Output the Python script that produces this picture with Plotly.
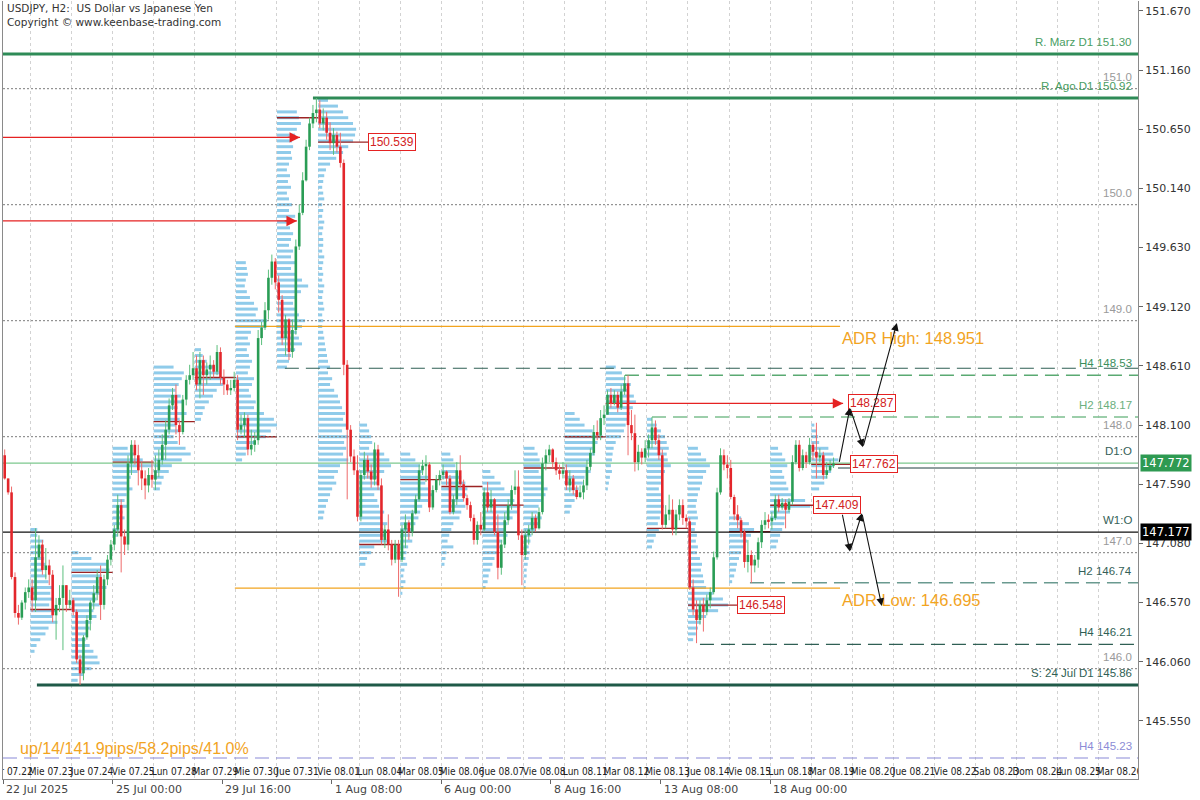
import plotly.graph_objects as go

# ---------------- data ----------------
FIRST_BAR = 4            # H2 bar index (0 = 22 Jul 00:00), first visible bar
FIRST_OPEN = 147.84

close_by_day = [
    [147.64,147.52,146.79,146.48,146.44,146.57,146.66,146.70],
    [146.59,146.96,147.07,146.85,146.89,146.81,146.46,146.55,146.61,146.72,146.55,146.59],
    [146.49,146.08,145.96,146.27,146.42,146.57,146.65,146.79,146.55,146.77,146.94,147.07],
    [147.20,147.41,147.14,147.07,147.77,147.93,147.84,147.71,147.64,147.58,147.67,147.63],
    [147.71,147.80,147.93,148.06,148.27,148.36,148.10,148.04,148.32,148.49,148.53,148.59],
    [148.45,148.66,148.53,148.58,148.62,148.56,148.73,148.51,148.45,148.40,148.42,148.49],
    [148.06,148.10,148.16,147.89,147.93,147.97,148.85,148.94,149.09,149.37,149.51,149.33],
    [149.18,148.85,149.01,148.73,148.92,149.64,149.93,150.21,150.50,150.70,150.79,150.82],
    [150.70,150.75,150.62,150.53,150.60,150.50,150.36,148.62,148.06,147.83,147.71,147.31],
    [147.67,147.80,147.70,147.63,147.89,147.58,147.11,147.20,147.07,146.94,147.07,146.94],
    [147.20,147.26,147.18,147.34,147.46,147.71,147.75,147.76,147.39,147.54,147.63,147.67],
    [147.70,147.64,147.35,147.46,147.71,147.59,147.47,147.41,147.30,147.11,147.24,147.20],
    [147.52,147.39,147.46,147.18,146.87,147.07,147.28,147.41,147.54,147.57,147.15,146.98],
    [147.15,147.20,147.30,147.21,147.35,147.77,147.84,147.89,147.78,147.71,147.68,147.71],
    [147.58,147.64,147.54,147.48,147.52,147.58,147.74,147.86,148.04,148.01,148.16,148.19],
    [148.36,148.29,148.36,148.25,148.39,148.46,148.10,148.03,147.78,147.87,147.82,147.90],
    [147.97,148.08,147.97,147.84,147.24,147.33,147.37,147.20,147.33,147.41,147.30,147.27],
    [146.70,146.51,146.42,146.55,146.49,146.59,146.66,146.96,147.52,147.84,147.76,147.73],
    [147.48,147.33,147.28,147.18,146.92,146.98,146.89,146.94,147.09,147.24,147.28,147.27],
    [147.30,147.46,147.39,147.43,147.37,147.44,147.78,147.93,147.73,147.84,147.78,147.93],
    [147.87,147.82,147.84,147.67,147.71,147.75,147.77],
]
high_by_day = [
    [147.89,147.64,147.57,146.83,146.55,146.59,146.70,146.77],
    [146.77,147.21,147.15,147.11,147.04,146.94,146.85,146.61,146.72,146.89,146.72,146.68],
    [146.61,146.51,146.12,146.29,146.46,146.59,146.72,146.85,146.89,146.81,146.98,147.11],
    [147.24,147.50,147.46,147.20,147.84,147.97,147.97,147.93,147.78,147.71,147.73,147.80],
    [147.84,147.89,148.02,148.14,148.33,148.42,148.45,148.14,148.36,148.53,148.62,148.73],
    [148.70,148.73,148.70,148.64,148.70,148.66,148.79,148.77,148.58,148.49,148.49,148.56],
    [148.53,148.19,148.21,148.19,148.06,148.04,148.92,148.99,149.16,149.44,149.57,149.54],
    [149.39,149.22,149.05,149.02,149.01,149.70,150.00,150.28,150.56,150.75,150.86,150.92],
    [150.90,150.83,150.80,150.71,150.66,150.63,150.62,150.39,148.66,148.10,147.89,147.84],
    [147.71,147.87,147.84,147.76,147.95,147.93,147.64,147.24,147.33,147.11,147.11,147.11],
    [147.24,147.33,147.28,147.37,147.50,147.76,147.80,147.84,147.78,147.58,147.67,147.71],
    [147.76,147.71,147.67,147.50,147.78,147.84,147.63,147.50,147.44,147.33,147.27,147.35],
    [147.56,147.61,147.54,147.47,147.33,147.11,147.35,147.46,147.58,147.71,147.71,147.20],
    [147.20,147.24,147.35,147.33,147.39,147.82,147.89,147.93,147.90,147.82,147.76,147.78],
    [147.76,147.71,147.67,147.58,147.58,147.63,147.80,147.90,148.10,148.14,148.23,148.27],
    [148.40,148.42,148.40,148.39,148.45,148.53,148.53,148.23,148.19,147.93,147.90,147.97],
    [148.02,148.17,148.14,148.02,147.89,147.41,147.50,147.46,147.37,147.46,147.46,147.33],
    [147.30,146.77,146.59,146.59,146.61,146.64,146.70,147.01,147.56,147.90,147.89,147.84],
    [147.80,147.50,147.41,147.30,147.20,147.11,147.02,146.98,147.13,147.28,147.35,147.33],
    [147.35,147.50,147.50,147.47,147.46,147.47,147.84,147.97,147.97,147.89,147.87,147.99],
    [147.95,148.12,147.90,147.87,147.78,147.80,147.82],
]
low_by_day = [
    [147.63,147.50,146.77,146.44,146.38,146.42,146.51,146.61],
    [146.49,146.49,146.94,146.81,146.77,146.72,146.40,146.25,146.49,146.16,146.49,146.52],
    [146.46,146.05,145.86,145.90,146.25,146.33,146.51,146.59,146.42,146.51,146.72,146.89],
    [147.02,147.14,146.83,146.98,147.02,147.67,147.76,147.58,147.54,147.46,147.52,147.56],
    [147.54,147.65,147.76,147.80,148.02,148.23,148.02,147.93,148.02,148.27,148.45,148.49],
    [148.40,148.33,148.36,148.45,148.49,148.51,148.53,148.45,148.36,148.36,148.36,148.39],
    [147.97,148.02,147.99,147.84,147.84,147.87,147.93,148.79,148.92,149.01,149.31,149.27],
    [149.07,148.79,148.70,148.66,148.68,148.88,149.61,149.91,150.20,150.47,150.66,150.71],
    [150.66,150.64,150.56,150.47,150.43,150.45,150.32,148.53,147.46,147.78,147.67,147.27],
    [147.27,147.63,147.64,147.56,147.58,147.54,147.07,147.04,147.02,146.89,146.91,146.62],
    [146.92,147.04,147.11,147.14,147.33,147.44,147.67,147.61,147.35,147.37,147.52,147.58],
    [147.63,147.58,147.33,147.33,147.41,147.56,147.44,147.37,147.27,147.07,147.07,147.15],
    [147.18,147.35,147.35,147.15,146.77,146.81,147.04,147.24,147.37,147.50,147.11,146.72],
    [146.94,147.07,147.15,147.18,147.20,147.33,147.71,147.78,147.73,147.67,147.63,147.64],
    [147.54,147.52,147.50,147.46,147.47,147.46,147.54,147.71,147.84,147.97,147.97,148.10],
    [148.19,148.25,148.27,148.21,148.23,148.36,147.84,147.97,147.70,147.71,147.76,147.78],
    [147.82,147.90,147.93,147.80,147.20,147.21,147.28,147.15,147.15,147.28,147.24,147.21],
    [146.68,146.46,146.22,146.38,146.32,146.46,146.52,146.64,146.94,147.50,147.71,147.64],
    [147.46,147.28,147.21,147.13,146.87,146.83,146.74,146.83,146.87,147.04,147.20,147.21],
    [147.20,147.28,147.35,147.37,147.21,147.35,147.41,147.76,147.70,147.71,147.73,147.76],
    [147.80,147.64,147.78,147.63,147.64,147.70,147.73],
]

day_names = ["Mar 07.22", "Mie 07.23", "Jue 07.24", "Vie 07.25", "Lun 07.28", "Mar 07.29",
             "Mie 07.30", "Jue 07.31", "Vie 08.01", "Lun 08.04", "Mar 08.05", "Mie 08.06",
             "Jue 08.07", "Vie 08.08", "Lun 08.11", "Mar 08.12", "Mie 08.13", "Jue 08.14",
             "Vie 08.15", "Lun 08.18", "Mar 08.19", "Mie 08.20", "Jue 08.21", "Vie 08.22",
             "Sab 08.23", "Dom 08.24", "Lun 08.25", "Mar 08.26"]
BARS_PER_DAY = 12

time_labels = ["22 Jul 2025", "25 Jul 00:00", "29 Jul 16:00", "1 Aug 08:00",
               "6 Aug 00:00", "8 Aug 16:00", "13 Aug 08:00", "18 Aug 00:00"]
time_bars = [3.5, 35.5, 67.5, 99.5, 131.5, 163.5, 195.5, 227.5]

price_ticks = [151.670, 151.160, 150.650, 150.140, 149.630, 149.120, 148.610,
               148.100, 147.590, 147.080, 146.570, 146.060, 145.550]

round_levels = [151.0, 150.0, 149.0, 148.0, 147.0, 146.0]

key_names = ["R. Marz D1 151.30", "R. Ago.D1 150.92", "H4 148.53", "H2 148.17", "D1:O",
             "W1:O", "H2 146.74", "H4 146.21", "S: 24 Jul D1 145.86", "H4 145.23"]
key_prices = [151.30, 150.92, 148.53, 148.17, 147.772, 147.177, 146.74, 146.21, 145.86, 145.23]
key_start = [3.5, 94.0, 185.1, 193.0, 3.5, 3.5, 221.6, 207.0, 13.4, 3.5]

aux_prices = [148.59, 147.73]
aux_start = [85.8, 247.3]

adr_high = 148.951
adr_low = 146.695
adr_from, adr_to = 71.2, 247.9

red_arrow_prices = [150.58, 149.86, 148.287]
red_arrow_from = [3.5, 3.5, 179.5]
red_arrow_to = [90.2, 89.3, 248.8]

box_values = [150.539, 148.287, 147.762, 147.409, 146.548]
box_bars = [110.1, 250.2, 250.8, 240.0, 217.8]

proj_up_bars = [247.6, 250.8, 254.6, 264.5]
proj_up_prices = [147.77, 148.25, 147.91, 148.98]
proj_dn_bars = [248.5, 250.8, 254.3, 260.1]
proj_dn_prices = [147.34, 147.01, 147.34, 146.54]

tag_values = [147.772, 147.177]
stats_text = "up/14/141.9pips/58.2pips/41.0%"

# volume profiles: one per day (day index), top price, lengths (bars) every 0.05
VP_STEP = 0.05
vp_days = list(range(1, 21))
vp_tops = [147.20, 147.00, 147.90, 148.60, 148.75, 149.50, 150.80, 150.90, 148.10, 147.85,
           147.85, 147.70, 147.90, 148.20, 148.60, 148.15, 147.90, 147.30, 147.90, 148.10]
vp_lens = [
    [2,2,3.8,3.8,3.5,4,4.4,3.5,4.7,5.3,6.4,5.8,6.7,5.5,7.3,6.4,7.9,5.3,4.4,2.9,1.8,1.2],
    [2,5.8,10.2,11.1,8.8,7.9,10.2,8.8,7.3,8.2,6.4,7.3,5.8,5.3,4.7,4.1,5.3,6.4,7.6,8.2,5.8,3.5,1.8],
    [4.4,6.4,8.8,11.7,7.3,5.3,4.4,5.8,4.1,3.5,4.7,2.9,3.5,2.3,2,1.5],
    [5.8,8.8,8.2,7.3,6.4,7.9,8.8,7,9.6,7.6,6.4,7.3,5.8,7,9.3,10.8,8.2,5.3,4.4,2.9,2.3,1.8],
    [1.8,2.3,3.5,5.8,7.6,8.5,8.2,6.4,5.3,4.1,2.9,2.3,1.8],
    [2.9,3.2,3.5,2.9,2.6,3.2,4.1,5.3,6.4,5.8,9.1,8.2,4.4,3.5,4.1,3.2,3.8,4.7,4.1,3.5,5.3,4.7,
     3.8,4.4,5.8,5.3,8.2,11.1,12,10.2,8.8,5.3,3.5,2.9,1.8],
    [5.8,6.4,7,5.8,5.3,4.4,4.7,4.1,4.4,3.5,2.9,3.8,3.2,4.1,2.9,3.5,4.4,3.5,5.3,4.4,3.8,4.7,
     4.1,3.5,4.7,4.1,5.3,4.1,5.8,7.3,9.1,7,5.3,4.7,5.8,6.4,8.2,7.3,5.8,6.4,7.3,5.3,4.1,3.5,2.9],
    [2.9,5.8,7.3,8.8,10.2,11.1,10.8,10.2,8.8,7.3,5.3,3.5,2.3,1.8,
     1.5,1.2,1.5,1.8,1.2,1.5,1.2,1.8,1.5,1.2,1.5,1.5,1.2,1.8,1.5,1.2,1.5,1.2,1.8,1.5,
     1.2,1.5,1.8,1.2,1.5,1.2,1.5,1.8,2.0,2.3,2.6,
     2.9,3.5,2.9,4.1,3.5,4.7,5.8,6.4,7,7.9,7.3,8.2,7,8.8,7.6,8.2,7.3,8.8,6.4,5.8,
     4.7,5.3,4.1,3.5,2.9,2.3,1.8,1.5],
    [2.3,2.9,3.5,3.8,2.9,7.3,8.8,9.3,7.3,5.8,5.3,6.4,4.4,5.3,5.8,7.3,6.4,8.2,7,7.6,8.8,4.4,3.5,2.3,1.8],
    [2.9,4.4,5.8,6.7,8.2,7.3,8.8,9.6,8.2,6.4,5.8,5.3,4.4,3.5,2.9,3.5,2.3,1.8,1.5,2,1.2,0.9,1.5,0.9,0.6],
    [2.6,3.5,4.1,4.7,5.8,7,7.6,7.3,6.4,7,5.8,5.3,3.5,2.9,2.3,1.8,3.5,1.5,1.2,0.9],
    [2.3,3.5,5.3,6.4,8.2,9.3,11.1,10.2,8.8,7.3,6.4,7.3,5.8,5.3,4.4,3.5,2.9,2.3,1.8,1.5,0.9],
    [3.2,4.1,4.7,5,4.4,5.3,5.8,7,6.4,5.3,4.4,4.1,5.3,4.7,3.5,2.3,2,1.5,1.8,1.5,1.2,0.9,0.9,0.6,0.6],
    [2.9,4.4,5.8,8.2,11.1,9.6,8.2,8.8,7.3,6.4,7.6,5.8,5.3,4.1,3.5,2.9,2,1.5],
    [2.9,4.7,5.8,7.3,6.7,8.2,8.8,7.9,7,6.4,5.8,5.3,4.4,2.9,2.3,2,1.8,1.5,1.8,1.2,0.9,0.6],
    [1.5,2.9,4.1,5.3,5.8,6.4,5.8,6.1,7,5.3,4.4,4.1,3.5,4.1,4.7,5,4.4,3.8,3.2,3.5,2.6,2,1.5],
    [2.9,3.8,5.3,6.4,5.3,4.4,4.1,3.5,2.9,2.6,2.3,2.6,2.9,2.3,2,2.6,2.3,2.9,2.6,3.5,4.1,3.8,
     4.4,4.7,5.3,7.3,10.2,11.7,8.8,5.3,3.8,2.9,2.3,1.5],
    [3.5,5.8,7.3,6.4,5.3,4.4,3.5,2.9,2.3,2,1.5,0.9],
    [2.3,3.5,4.4,5,3.5,4.1,4.7,5.3,6.4,10.2,11.7,5.8,4.4,4.1,3.5,2.9,2.3,1.8],
    [0.9,1.5,2,2.3,5,6.4,7.9,6.7,5.8,4.7,3.8,2.3],
]
poc_prices = [146.51, 146.83, 147.78, 148.13, 148.51, 148.00, 150.75, 150.539, 147.07, 147.63,
              147.57, 147.41, 147.73, 148.00, 148.287, 147.21, 146.548, 147.18, 147.409, 147.762]
poc_to_box = {8: 0, 15: 1, 20: 2, 19: 3, 17: 4}

# ---------------- layout constants / styles ----------------
X_RANGE = [3.5, 334.9]
Y_RANGE = [145.049, 151.756]
FONT = "Liberation Sans, Arial, sans-serif"
AX_FONT = "DejaVu Sans, Tahoma, sans-serif"
NARROW = "Liberation Sans Narrow, DejaVu Sans Condensed, Arial Narrow, sans-serif"
UP, UP_W = "#2a9d55", "#5cbf7d"
DN, DN_W = "#e3262b", "#ee6b6b"
VP_COLOR = "#8fcbea"
POC_COLOR = "#9c2424"
RED = "#e52222"
ORANGE = "#f2a41f"

key_style = [
    dict(color="#2e8b57", width=3, dash="solid", text="#4a9e63"),
    dict(color="#2e8b57", width=3, dash="solid", text="#4a9e63"),
    dict(color="#5aaa72", width=1.5, dash="14px,7px", text="#3a8f5c"),
    dict(color="#7cbf8e", width=1.5, dash="14px,7px", text="#6bb07e"),
    dict(color="#7cc88e", width=1.2, dash="solid", text="#355f58"),
    dict(color="#111111", width=1.2, dash="solid", text="#355f58"),
    dict(color="#6a9a90", width=1.5, dash="14px,7px", text="#355f58"),
    dict(color="#2f5f54", width=1.2, dash="14px,7px", text="#2f5f54"),
    dict(color="#1f5a48", width=3, dash="solid", text="#2f5f54"),
    dict(color="#8a8ad8", width=1.2, dash="14px,7px", text="#8c8cd6"),
]
aux_style = [dict(color="#2f5f54", width=1.2, dash="14px,7px"),
             dict(color="#1f3f3f", width=1, dash="solid")]

# ---------------- build ----------------
closes = sum(close_by_day, [])
highs = sum(high_by_day, [])
lows = sum(low_by_day, [])
opens = [FIRST_OPEN] + closes[:-1]

fig = go.Figure()

# volume profiles
vy, vx, vb = [], [], []
for d, top, lens in zip(vp_days, vp_tops, vp_lens):
    for k, L in enumerate(lens):
        vy.append(round(top - k * VP_STEP, 3))
        vx.append(L)
        vb.append(d * BARS_PER_DAY - 0.5)
fig.add_trace(go.Bar(orientation="h", y=vy, x=vx, base=vb, width=0.026,
                     marker=dict(color=VP_COLOR, line=dict(width=0)),
                     hoverinfo="skip", showlegend=False))

def hline(x0, x1, y, color, width, dash):
    fig.add_trace(go.Scatter(x=[x0, x1], y=[y, y], mode="lines",
                             line=dict(color=color, width=width, dash=dash),
                             hoverinfo="skip", showlegend=False))

# POC lines
for d, p in zip(vp_days, poc_prices):
    if d == 15:
        continue
    x0 = d * BARS_PER_DAY - 0.5
    x1 = box_bars[poc_to_box[d]] if d in poc_to_box else x0 + BARS_PER_DAY
    hline(x0, x1, p, POC_COLOR, 1.4, "solid")

# round levels
for p in round_levels:
    hline(X_RANGE[0], X_RANGE[1], p, "#7a7a7a", 1, "2px,2px")

# ADR lines
hline(adr_from, adr_to, adr_high, ORANGE, 1.2, "solid")
hline(adr_from, adr_to, adr_low, ORANGE, 1.2, "solid")

# key levels
for p, x0, st in zip(key_prices, key_start, key_style):
    hline(x0, X_RANGE[1], p, st["color"], st["width"], st["dash"])
for p, x0, st in zip(aux_prices, aux_start, aux_style):
    hline(x0, X_RANGE[1], p, st["color"], st["width"], st["dash"])

# red arrow lines
for p, x0, x1 in zip(red_arrow_prices, red_arrow_from, red_arrow_to):
    hline(x0, x1, p, RED, 1.3, "solid")

# candles
uwx, uwy, ubx, uby, dwx, dwy, dbx, dby = [], [], [], [], [], [], [], []
for k, (o, h, l, c) in enumerate(zip(opens, highs, lows, closes)):
    b = FIRST_BAR + k
    lo_b, hi_b = min(o, c), max(o, c)
    if hi_b - lo_b < 0.01:
        lo_b, hi_b = lo_b - 0.005, hi_b + 0.005
    if c >= o:
        uwx += [b, b, None]; uwy += [l, h, None]
        ubx += [b, b, None]; uby += [lo_b, hi_b, None]
    else:
        dwx += [b, b, None]; dwy += [l, h, None]
        dbx += [b, b, None]; dby += [lo_b, hi_b, None]
for xs, ys, col, w in [(uwx, uwy, UP_W, 1), (dwx, dwy, DN_W, 1),
                       (ubx, uby, UP, 2.6), (dbx, dby, DN, 2.6)]:
    fig.add_trace(go.Scatter(x=xs, y=ys, mode="lines", line=dict(color=col, width=w),
                             hoverinfo="skip", showlegend=False, connectgaps=False))

# day name row (clipped to plot area)
fig.add_trace(go.Scatter(
    x=[d * BARS_PER_DAY + 5.5 for d in range(len(day_names))],
    y=[Y_RANGE[0] + 0.06] * len(day_names), mode="text", text=day_names,
    textfont=dict(family=NARROW, size=10, color="#222"), cliponaxis=True,
    hoverinfo="skip", showlegend=False))

ann = []
# level labels
for name, p, st in zip(key_names, key_prices, key_style):
    ann.append(dict(xref="paper", x=1, xanchor="right", xshift=-4, yref="y", y=p,
                    yanchor="bottom", yshift=4, text=name, showarrow=False,
                    font=dict(family=FONT, size=11.5, color=st["text"])))
for p in round_levels:
    ann.append(dict(xref="paper", x=1, xanchor="right", xshift=-4, yref="y", y=p,
                    yanchor="bottom", yshift=4, text=f"{p:.1f}", showarrow=False,
                    font=dict(family=FONT, size=11.5, color="#9a9a9a")))
# ADR texts
ann.append(dict(x=adr_to, y=adr_high, xanchor="left", yanchor="top", yshift=-1,
                text=f"ADR High: {adr_high:.3f}", showarrow=False,
                font=dict(family=FONT, size=16.5, color=ORANGE)))
ann.append(dict(x=adr_to, y=adr_low, xanchor="left", yanchor="top", yshift=-1,
                text=f"ADR Low: {adr_low:.3f}", showarrow=False,
                font=dict(family=FONT, size=16.5, color=ORANGE)))
ann.append(dict(xref="paper", x=0.013, yref="paper", y=0.039, xanchor="left",
                yanchor="middle", text=stats_text, showarrow=False,
                font=dict(family=FONT, size=16, color=ORANGE)))
# red arrowheads
for p, x0, x1 in zip(red_arrow_prices, red_arrow_from, red_arrow_to):
    ann.append(dict(x=x1, y=p, ax=x1 - 4, ay=p, axref="x", ayref="y", text="",
                    showarrow=True, arrowhead=2, arrowsize=1.6, arrowwidth=1.3,
                    arrowcolor=RED))
# value boxes
for v, b in zip(box_values, box_bars):
    ann.append(dict(x=b, y=v, xanchor="left", yanchor="middle", text=f"{v:.3f}",
                    showarrow=False, bgcolor="white", bordercolor=RED, borderwidth=1,
                    borderpad=1, font=dict(family=FONT, size=12, color="#d22222")))
# projection arrows
for bars_, prices_ in [(proj_up_bars, proj_up_prices), (proj_dn_bars, proj_dn_prices)]:
    for i in range(1, len(bars_)):
        ann.append(dict(x=bars_[i], y=prices_[i], ax=bars_[i - 1], ay=prices_[i - 1],
                        axref="x", ayref="y", text="", showarrow=True, arrowhead=2,
                        arrowsize=1.4, arrowwidth=1.1, arrowcolor="#111"))
# right-axis price tags
for v, bg in zip(tag_values, ["#2e9a52", "#000000"]):
    ann.append(dict(xref="paper", x=1, xanchor="left", xshift=2, y=v, yanchor="middle",
                    text=f"{v:.3f}", showarrow=False, bgcolor=bg, borderpad=1,
                    font=dict(family=AX_FONT, size=11.5, color="white")))
# time axis labels
for t, b in zip(time_labels, time_bars):
    ann.append(dict(x=b, xanchor="left", xshift=1, yref="paper", y=0, yanchor="top",
                    yshift=-2, text=t, showarrow=False,
                    font=dict(family=AX_FONT, size=11, color="#444")))
# title
ann.append(dict(xref="paper", x=0, xanchor="left", xshift=2, yref="paper", y=1,
                yanchor="top", yshift=1, align="left", showarrow=False,
                text="USDJPY, H2:\u00a0 US Dollar vs Japanese Yen<br>Copyright © www.keenbase-trading.com",
                font=dict(family=AX_FONT, size=10.5, color="#333")))

fig.update_layout(
    width=1200, height=800, margin=dict(l=3, r=62, t=1, b=21),
    paper_bgcolor="white", plot_bgcolor="white", showlegend=False,
    barmode="overlay", hovermode=False, annotations=ann,
    xaxis=dict(range=X_RANGE, showgrid=False, zeroline=False, showline=True,
               linecolor="#8a8a8a", linewidth=1, tickmode="array", tickvals=time_bars,
               showticklabels=False, ticks="outside", ticklen=4, tickcolor="#666",
               minor=dict(tickmode="array",
                          tickvals=[d * BARS_PER_DAY - 0.5 for d in range(1, len(day_names))],
                          showgrid=True, gridcolor="#d2d2d2", griddash="3px,3px",
                          gridwidth=1, ticks="")),
    yaxis=dict(range=Y_RANGE, side="right", showgrid=False, zeroline=False,
               showline=True, mirror=True, linecolor="#8a8a8a", linewidth=1,
               tickmode="array", tickvals=price_ticks,
               ticktext=[f"{v:.3f}" for v in price_ticks], ticks="outside", ticklen=4,
               tickcolor="#666", tickfont=dict(family=AX_FONT, size=11, color="#333")),
)

fig.write_html("out.html", config={"displayModeBar": False},
               post_script="document.body.style.margin='0px';document.body.style.overflow='hidden';")
